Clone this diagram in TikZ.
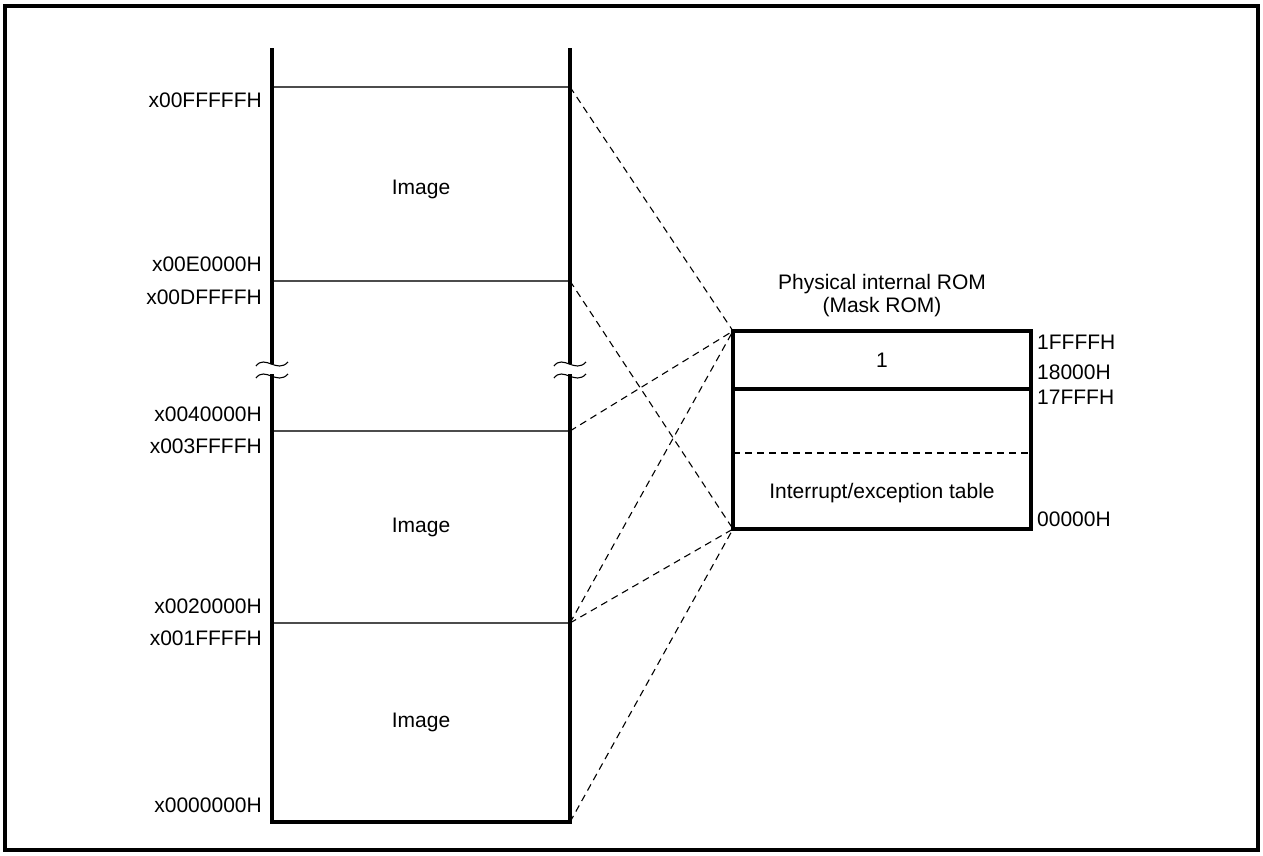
\documentclass[tikz,border=0pt]{standalone}
\usepackage{fontspec}
\setmainfont{Liberation Sans}
\begin{document}
\begin{tikzpicture}[x=1pt,y=-1pt,
  font=\fontsize{21}{25}\selectfont,
  col/.style={line width=3.2pt},
  sep/.style={line width=1.2pt, black!70},
  map/.style={line width=1.1pt, dash pattern=on 7pt off 5pt},
  rom/.style={line width=3.4pt},
  addr/.style={anchor=east, inner sep=0pt},
  raddr/.style={anchor=west, inner sep=0pt},
  lab/.style={inner sep=0pt, anchor=base},
  brk/.style={line width=1.1pt}]
\useasboundingbox (0,0) rectangle (1263,855);
\draw[line width=3.6pt] (5,6) rectangle (1258,850);

% memory column
\coordinate (cTL) at (272,48);
\coordinate (cTR) at (570,48);
\coordinate (cBL) at (272,822);
\coordinate (cBR) at (570,822);
\coordinate (a1L) at (272,87);  \coordinate (a1R) at (570,87);
\coordinate (a2L) at (272,281); \coordinate (a2R) at (570,281);
\coordinate (a3L) at (272,431); \coordinate (a3R) at (570,431);
\coordinate (a4L) at (272,623); \coordinate (a4R) at (570,623);

\draw[sep] (a1L) -- (a1R);
\draw[sep] (a2L) -- (a2R);
\draw[sep] (a3L) -- (a3R);
\draw[sep] (a4L) -- (a4R);
\draw[col] (cTL) -- (cBL) -- (cBR) -- (cTR);

% break marks
\foreach \bx in {272,570}{
  \fill[white] (\bx-3,364) rectangle (\bx+3,374);
  \draw[brk] (\bx-16,366) .. controls (\bx-7,354) and (\bx+5,374) .. (\bx+16,362);
  \draw[brk] (\bx-16,378) .. controls (\bx-7,366) and (\bx+5,386) .. (\bx+16,374);
}

% address labels (left)
\node[addr] (l1) at (262,100) {x00FFFFFH};
\node[addr] (l2) at (262,264) {x00E0000H};
\node[addr] (l3) at (262,297) {x00DFFFFH};
\node[addr] (l4) at (262,414) {x0040000H};
\node[addr] (l5) at (262,446) {x003FFFFH};
\node[addr] (l6) at (262,606) {x0020000H};
\node[addr] (l7) at (262,638) {x001FFFFH};
\node[addr] (l8) at (262,805) {x0000000H};

\node[lab] (img1) at (421,194) {Image};
\node[lab] (img2) at (421,532) {Image};
\node[lab] (img3) at (421,727) {Image};

% ROM box
\coordinate (rTL) at (733,331);
\coordinate (rTR) at (1031,331);
\coordinate (rBL) at (733,529);
\coordinate (rBR) at (1031,529);
\coordinate (rDL) at (733,389);
\coordinate (rDR) at (1031,389);
\coordinate (rXL) at (733,453);
\coordinate (rXR) at (1031,453);
\draw[map] (rXL) -- (rXR);
\draw[rom] (rDL) -- (rDR);
\draw[rom] (rTL) rectangle (rBR);

\node[lab] (t1) at (882,289) {Physical internal ROM};
\node[lab] (t2) at (882,312) {(Mask ROM)};
\node[inner sep=0pt] (one) at (882,360) {1};
\node[lab] (iet) at (882,498) {Interrupt/exception table};

\node[raddr] (r1) at (1037,342) {1FFFFH};
\node[raddr] (r2) at (1037,372) {18000H};
\node[raddr] (r3) at (1037,397) {17FFFH};
\node[raddr] (r4) at (1037,519) {00000H};

% mapping lines
\draw[map] (a1R) -- (rTL);
\draw[map] (a2R) -- (rBL);
\draw[map] (a3R) -- (rTL);
\draw[map] (a4R) -- (rTL);
\draw[map] (a4R) -- (rBL);
\draw[map] (cBR) -- (rBL);
\end{tikzpicture}
\end{document}
